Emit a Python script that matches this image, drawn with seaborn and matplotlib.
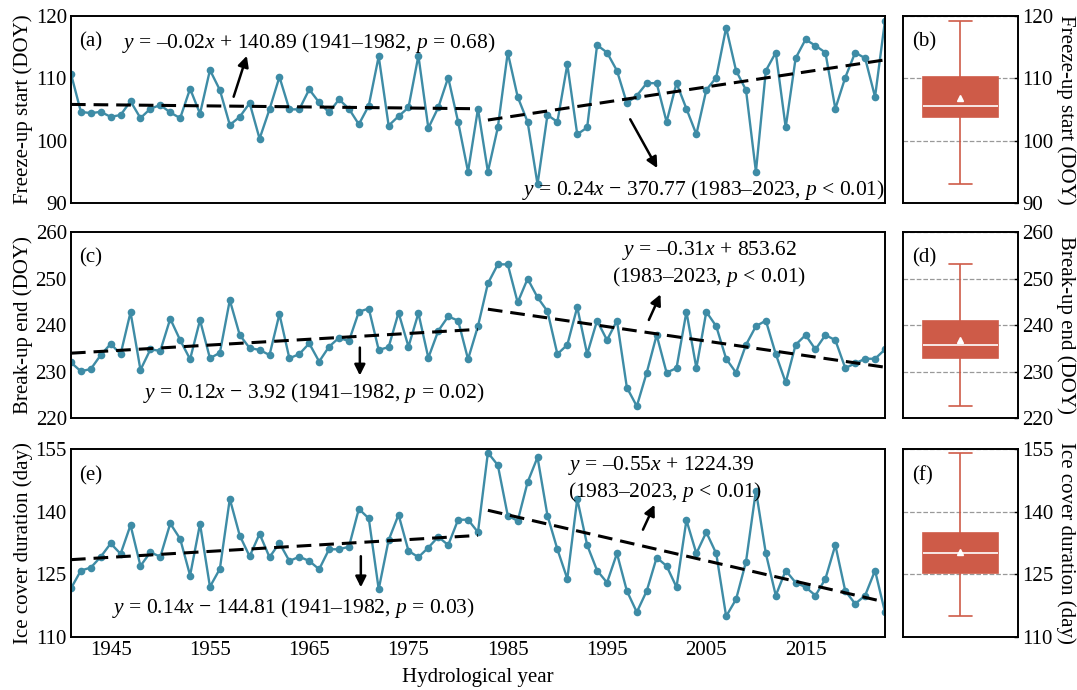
import numpy as np
import matplotlib
matplotlib.use('Agg')
import matplotlib.pyplot as plt
import seaborn as sns

# ── Datos ─────────────────────────────────────────────────────
anios = list(range(1941, 2024))

congelacion = [110.7, 104.6, 104.4, 104.6, 103.8, 104.1, 106.3, 103.6, 105.1, 105.7,
               104.5, 103.6, 108.3, 104.3, 111.3, 108.1, 102.5, 103.8, 106.0, 100.3,
               105.0, 110.2, 105.0, 105.0, 108.2, 106.1, 104.5, 106.6, 105.1, 102.6,
               105.6, 113.5, 102.4, 103.9, 105.3, 113.6, 102.0, 105.3, 110.1, 103.0,
               95.0, 105.1, 95.0, 102.1, 114.1, 107.0, 103.0, 93.0, 104.1, 103.0,
               112.2, 101.0, 102.1, 115.3, 114.1, 111.2, 106.0, 107.2, 109.2, 109.2,
               103.0, 109.2, 105.1, 101.0, 108.1, 110.1, 118.1, 111.2, 108.1, 95.0,
               111.2, 114.1, 102.1, 113.2, 116.2, 115.2, 114.1, 105.1, 110.1, 114.1,
               113.2, 107.0, 119.2]

deshielo = [232.0, 230.1, 230.6, 233.6, 236.0, 233.8, 242.8, 230.4, 234.8, 234.5,
            241.4, 236.8, 232.7, 241.1, 232.9, 234.1, 245.4, 237.9, 235.1, 234.7,
            233.6, 242.4, 232.9, 233.8, 236.1, 232.2, 235.4, 237.3, 236.6, 242.9,
            243.6, 234.7, 235.3, 242.7, 235.4, 242.6, 233.0, 238.8, 241.9, 241.0,
            232.7, 239.8, 249.0, 253.1, 253.1, 244.9, 250.0, 246.0, 243.0, 233.8,
            235.8, 243.9, 233.8, 241.0, 236.8, 241.0, 226.6, 222.6, 229.8, 237.9,
            229.8, 230.8, 242.9, 230.8, 242.9, 239.8, 232.8, 229.8, 235.8, 239.8,
            241.0, 233.8, 227.7, 235.8, 237.9, 234.8, 237.9, 236.8, 230.8, 231.8,
            232.8, 232.8, 234.8]

duracion = [121.6, 125.9, 126.6, 129.2, 132.4, 129.9, 136.8, 127.0, 130.3, 129.2,
            137.2, 133.5, 124.7, 137.1, 122.0, 126.3, 143.1, 134.3, 129.3, 134.7,
            129.1, 132.5, 128.2, 129.2, 128.2, 126.2, 131.0, 131.0, 131.6, 140.7,
            138.4, 121.4, 133.2, 139.3, 130.6, 129.1, 131.4, 134.0, 132.0, 138.1,
            138.1, 135.1, 154.2, 151.2, 139.1, 137.8, 147.1, 153.1, 139.1, 131.0,
            123.9, 143.1, 132.0, 125.9, 123.0, 130.0, 121.0, 115.9, 121.0, 129.0,
            127.0, 121.9, 138.0, 130.0, 135.1, 130.0, 114.9, 119.0, 128.0, 145.1,
            130.0, 119.9, 125.9, 123.0, 121.9, 119.9, 123.9, 132.0, 121.0, 117.9,
            119.9, 125.9, 115.9]

etiquetas_y = ['Freeze-up start (DOY)', 'Break-up end (DOY)', 'Ice cover duration (day)']
limites_y = [(90, 120), (220, 260), (110, 155)]
ticks_y = [[90, 100, 110, 120], [220, 230, 240, 250, 260], [110, 125, 140, 155]]
periodo_1 = (1941, 1982)
periodo_2 = (1983, 2023)

# ── Configuración visual ──────────────────────────────────────
color_linea = '#3E8CA6'
color_caja = '#CE5B48'
sns.set_theme(style='white')
plt.rcParams.update({
    'font.family': ['Liberation Serif', 'DejaVu Serif'],
    'font.size': 15,
    'mathtext.fontset': 'custom',
    'mathtext.rm': 'Liberation Serif',
    'mathtext.it': 'Liberation Serif:italic',
    'axes.edgecolor': 'black',
    'axes.linewidth': 1.4,
    'xtick.color': 'black',
    'ytick.color': 'black',
    'axes.labelcolor': 'black',
    'text.color': 'black',
})

fig = plt.figure(figsize=(10.77, 6.9), dpi=100)
filas = [(0.7058, 0.2714), (0.3938, 0.2696), (0.0772, 0.2716)]
series = [congelacion, deshielo, duracion]
letras = [('(a)', '(b)'), ('(c)', '(d)'), ('(e)', '(f)')]

flecha = dict(arrowstyle='-|>', color='black', lw=1.8, mutation_scale=16)
tam_anot = 15.5

ejes = []
for i, (abajo, alto) in enumerate(filas):
    eje = fig.add_axes([0.0659, abajo, 0.7558, alto])
    caja = fig.add_axes([0.8384, abajo, 0.1068, alto])
    valores = np.array(series[i])
    x = np.array(anios)

    sns.lineplot(x=x, y=valores, ax=eje, color=color_linea, lw=1.7,
                 marker='o', markersize=5.5, markeredgewidth=0, zorder=2)

    # tendencias por periodo
    for ini, fin in (periodo_1, periodo_2):
        m = (x >= ini) & (x <= fin)
        coef = np.polyfit(x[m], valores[m], 1)
        eje.plot(x[m], np.polyval(coef, x[m]), color='black', lw=2.2,
                 ls=(0, (4.8, 2.6)), zorder=3)

    eje.set_xlim(1941, 2023)
    eje.set_ylim(*limites_y[i])
    eje.set_yticks(ticks_y[i])
    eje.set_xticks(range(1945, 2024, 10))
    eje.tick_params(direction='in', length=5, width=1.2, labelsize=15, pad=3)
    eje.set_ylabel(etiquetas_y[i], fontsize=15, labelpad=2)
    eje.set_xlabel('')
    if i < 2:
        eje.tick_params(labelbottom=False)
    eje.text(0.01, 0.86, letras[i][0], transform=eje.transAxes, fontsize=15, va='center')

    # caja
    sns.boxplot(y=valores, ax=caja, color=color_caja, linecolor=color_caja,
                width=0.65, whis=(0, 100), showmeans=True, linewidth=1.2,
                medianprops=dict(color='white', lw=1.2),
                meanprops=dict(marker='^', markerfacecolor='white',
                               markeredgecolor='white', markersize=5),
                saturation=1)
    # bigotes con remates más cortos
    for linea in caja.lines:
        yd = np.asarray(linea.get_ydata(), dtype=float)
        xd = np.asarray(linea.get_xdata(), dtype=float)
        if len(xd) == 2 and np.isclose(yd[0], yd[1]) and (xd.max() - xd.min()) < 0.5:
            c = xd.mean()
            linea.set_xdata(c + (xd - c) * 0.6)
    caja.set_ylim(*limites_y[i])
    caja.set_yticks(ticks_y[i])
    caja.set_xticks([])
    caja.yaxis.tick_right()
    caja.yaxis.set_label_position('right')
    caja.set_ylabel(etiquetas_y[i], rotation=270, fontsize=15, labelpad=16)
    caja.tick_params(axis='y', direction='in', length=3, width=1.0, labelsize=15, pad=3)
    caja.yaxis.grid(True, ls='--', color='#999999', lw=0.9)
    caja.set_axisbelow(True)
    caja.text(0.08, 0.86, letras[i][1], transform=caja.transAxes, fontsize=15, va='center')
    ejes.append(eje)

eje_a, eje_c, eje_e = ejes
eje_e.set_xlabel('Hydrological year', fontsize=15, labelpad=6)

# ── Anotaciones (a) ──
eje_a.text(1946.1, 115.6, r'$y$ = –0.02$x$ + 140.89 (1941–1982, $p$ = 0.68)', va='center', fontsize=tam_anot)
eje_a.annotate('', xy=(1958.8, 114.0), xytext=(1957.3, 106.6), arrowprops=flecha)
eje_a.text(2023, 92.1, r'$y$ = 0.24$x$ − 370.77 (1983–2023, $p$ < 0.01)', ha='right', va='center', fontsize=tam_anot)
eje_a.annotate('', xy=(2000.2, 95.2), xytext=(1997.2, 103.8), arrowprops=flecha)

# ── Anotaciones (c) ──
eje_c.text(1948.3, 225.5, r'$y$ = 0.12$x$ − 3.92 (1941–1982, $p$ = 0.02)', va='center', fontsize=tam_anot)
eje_c.annotate('', xy=(1970.1, 228.6), xytext=(1970.1, 235.8), arrowprops=flecha)
eje_c.text(2005.3, 253.2, '$y$ = –0.31$x$ + 853.62\n(1983–2023, $p$ < 0.01)',
           ha='center', va='center', fontsize=tam_anot, linespacing=1.2)
eje_c.annotate('', xy=(2000.5, 247.2), xytext=(1999.1, 240.6), arrowprops=flecha)

# ── Anotaciones (e) ──
eje_e.text(1945.1, 117.0, r'$y$ = 0.14$x$ − 144.81 (1941–1982, $p$ = 0.03)', va='center', fontsize=tam_anot)
eje_e.annotate('', xy=(1970.2, 121.2), xytext=(1970.2, 130.0), arrowprops=flecha)
eje_e.text(1991.1, 147.9, '$y$ = –0.55$x$ + 1224.39\n(1983–2023, $p$ < 0.01)',
           ha='left', va='center', fontsize=tam_anot, linespacing=1.2)
eje_e.annotate('', xy=(1999.9, 142.3), xytext=(1998.5, 135.1), arrowprops=flecha)

plt.savefig('out.png', dpi=100)
